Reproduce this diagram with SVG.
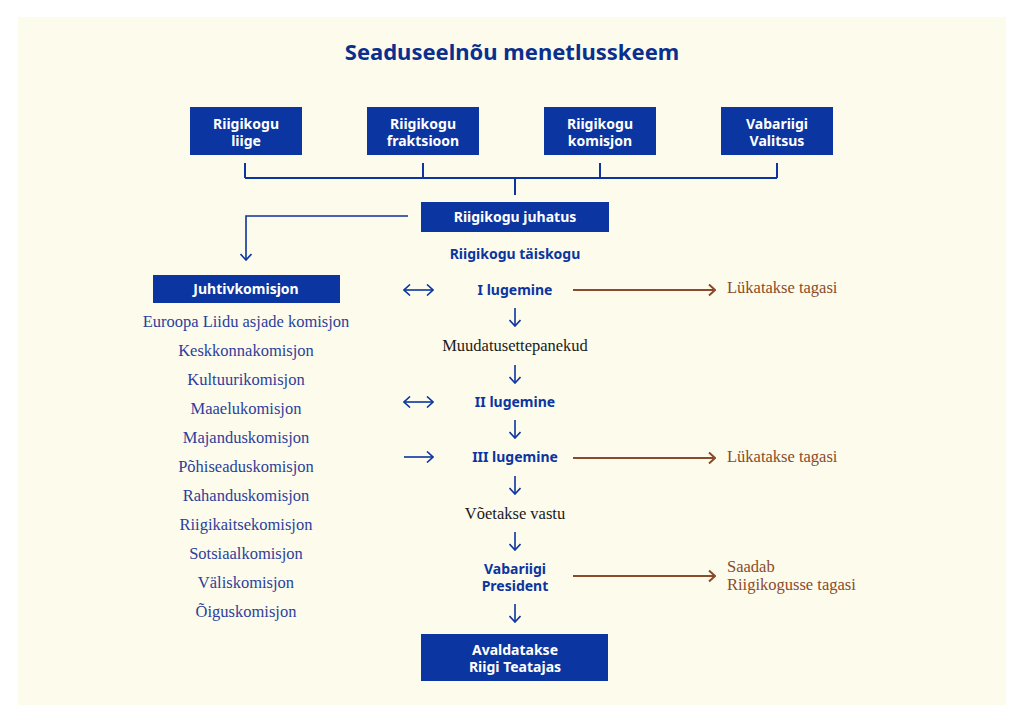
<svg xmlns="http://www.w3.org/2000/svg" width="1024" height="724" viewBox="0 0 1024 724">
  <defs>
    <style>
      .bg { fill: #fdfbeb; }
      .box { fill: #0b35a0; }
      .bt { font-family: "Noto Sans", "DejaVu Sans", sans-serif; font-weight: bold; font-size: 14px; fill: #ffffff; text-anchor: middle; }
      .title { font-family: "Noto Sans", "DejaVu Sans", sans-serif; font-weight: bold; font-size: 22px; fill: #0b2f8f; text-anchor: middle; }
      .st { font-family: "Noto Sans", "DejaVu Sans", sans-serif; font-weight: bold; font-size: 14px; fill: #0b35a0; text-anchor: middle; }
      .sv { font-family: "Liberation Serif", "DejaVu Serif", serif; font-size: 16.5px; fill: #2b3f9c; text-anchor: middle; }
      .sk { font-family: "Liberation Serif", "DejaVu Serif", serif; font-size: 16.5px; fill: #1a1a1a; text-anchor: middle; }
      .sb { font-family: "Liberation Serif", "DejaVu Serif", serif; font-size: 16.5px; fill: #8a4b2a; }
      .ln { stroke: #0b35a0; stroke-width: 2; fill: none; }
      .ar { stroke: #0b35a0; stroke-width: 1.6; fill: none; marker-end: url(#hb); }
      .ar2 { stroke: #0b35a0; stroke-width: 1.6; fill: none; marker-end: url(#hb); marker-start: url(#hb); }
      .br { stroke: #8a4b2a; stroke-width: 2; fill: none; marker-end: url(#hr); }
    </style>
    <marker id="hb" viewBox="0 0 10 12" refX="9" refY="6" markerWidth="10" markerHeight="12" markerUnits="userSpaceOnUse" orient="auto-start-reverse">
      <path d="M3,0.5 L9,6 L3,11.5" fill="none" stroke="#0b35a0" stroke-width="1.6"/>
    </marker>
    <marker id="hr" viewBox="0 0 10 12" refX="9" refY="6" markerWidth="10" markerHeight="12" markerUnits="userSpaceOnUse" orient="auto">
      <path d="M3,0.5 L9,6 L3,11.5" fill="none" stroke="#8a4b2a" stroke-width="2"/>
    </marker>
  </defs>

  <rect x="0" y="0" width="1024" height="724" fill="#ffffff"/>
  <rect class="bg" x="18" y="17" width="988" height="688"/>

  <text class="title" x="512" y="60">Seaduseelnõu menetlusskeem</text>

  <g id="connectors">
    <path class="ln" d="M245,163 V178 M423,163 V178 M600,163 V178 M777,163 V178 M245,178 H777 M515,178 V195"/>
    <path class="ar" d="M408,216 H246 V260"/>
    <path class="ar2" d="M404,290 H433"/>
    <path class="ar2" d="M404,402 H433"/>
    <path class="ar" d="M404,457 H433"/>
    <path class="ar" d="M515,308 V326"/>
    <path class="ar" d="M515,365 V383"/>
    <path class="ar" d="M515,420 V438"/>
    <path class="ar" d="M515,476 V494"/>
    <path class="ar" d="M515,532 V550"/>
    <path class="ar" d="M515,604 V622"/>
    <path class="br" d="M573,290 H715"/>
    <path class="br" d="M573,458 H715"/>
    <path class="br" d="M573,576 H715"/>
  </g>

  <g id="n-liige">
    <rect class="box" x="190" y="107" width="112" height="48"/>
    <text class="bt" x="246" y="129">Riigikogu</text>
    <text class="bt" x="246" y="146">liige</text>
  </g>
  <g id="n-fraktsioon">
    <rect class="box" x="367" y="107" width="112" height="48"/>
    <text class="bt" x="423" y="129">Riigikogu</text>
    <text class="bt" x="423" y="146">fraktsioon</text>
  </g>
  <g id="n-komisjon">
    <rect class="box" x="544" y="107" width="112" height="48"/>
    <text class="bt" x="600" y="129">Riigikogu</text>
    <text class="bt" x="600" y="146">komisjon</text>
  </g>
  <g id="n-valitsus">
    <rect class="box" x="721" y="107" width="112" height="48"/>
    <text class="bt" x="777" y="129">Vabariigi</text>
    <text class="bt" x="777" y="146">Valitsus</text>
  </g>

  <g id="n-juhatus">
    <rect class="box" x="421" y="202" width="188" height="30"/>
    <text class="bt" x="515" y="222">Riigikogu juhatus</text>
  </g>

  <g id="n-juhtivkomisjon">
    <rect class="box" x="153" y="275" width="187" height="28"/>
    <text class="bt" x="246" y="294">Juhtivkomisjon</text>
  </g>

  <g id="n-komisjonid">
    <text class="sv" x="246" y="327">Euroopa Liidu asjade komisjon</text>
    <text class="sv" x="246" y="356">Keskkonnakomisjon</text>
    <text class="sv" x="246" y="385">Kultuurikomisjon</text>
    <text class="sv" x="246" y="414">Maaelukomisjon</text>
    <text class="sv" x="246" y="443">Majanduskomisjon</text>
    <text class="sv" x="246" y="472">Põhiseaduskomisjon</text>
    <text class="sv" x="246" y="501">Rahanduskomisjon</text>
    <text class="sv" x="246" y="530">Riigikaitsekomisjon</text>
    <text class="sv" x="246" y="559">Sotsiaalkomisjon</text>
    <text class="sv" x="246" y="588">Väliskomisjon</text>
    <text class="sv" x="246" y="617">Õiguskomisjon</text>
  </g>

  <g id="n-taiskogu">
    <text class="st" x="515" y="259">Riigikogu täiskogu</text>
  </g>
  <g id="n-lugemine1">
    <text class="st" x="515" y="295">I lugemine</text>
  </g>
  <g id="n-muudatus">
    <text class="sk" x="515" y="351">Muudatusettepanekud</text>
  </g>
  <g id="n-lugemine2">
    <text class="st" x="515" y="407">II lugemine</text>
  </g>
  <g id="n-lugemine3">
    <text class="st" x="515" y="462">III lugemine</text>
  </g>
  <g id="n-vastu">
    <text class="sk" x="515" y="519">Võetakse vastu</text>
  </g>
  <g id="n-president">
    <text class="st" x="515" y="574">Vabariigi</text>
    <text class="st" x="515" y="591">President</text>
  </g>
  <g id="n-avaldatakse">
    <rect class="box" x="421" y="634" width="187" height="47"/>
    <text class="bt" x="515" y="655">Avaldatakse</text>
    <text class="bt" x="515" y="672">Riigi Teatajas</text>
  </g>

  <g id="n-tagasi1">
    <text class="sb" x="727" y="293">Lükatakse tagasi</text>
  </g>
  <g id="n-tagasi2">
    <text class="sb" x="727" y="462">Lükatakse tagasi</text>
  </g>
  <g id="n-saadab">
    <text class="sb" x="727" y="572">Saadab</text>
    <text class="sb" x="727" y="590">Riigikogusse tagasi</text>
  </g>
</svg>
